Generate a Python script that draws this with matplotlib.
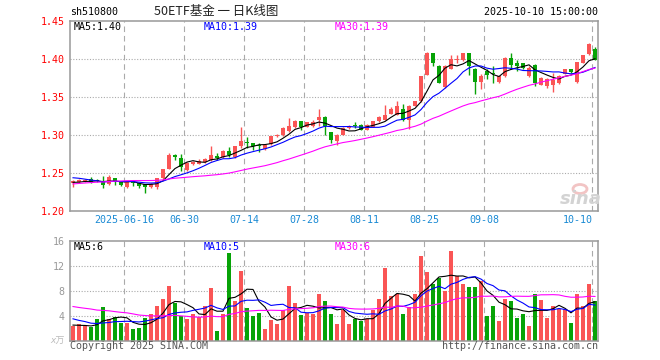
import numpy as np
import pandas as pd
import matplotlib
matplotlib.use('Agg')
from matplotlib import pyplot as plt
from matplotlib.patches import Ellipse

# sh510800 50ETF基金, daily candles 2025-06-03 .. 2025-10-10
opens = [1.2375, 1.2380, 1.2395, 1.2420, 1.2412, 1.2403, 1.2360, 1.2434, 1.2390, 1.2316,
         1.2403, 1.2368, 1.2355, 1.2316, 1.2325, 1.2434, 1.2560, 1.2741, 1.2702, 1.2543,
         1.2620, 1.2625, 1.2645, 1.2667, 1.2728, 1.2706, 1.2790, 1.2710, 1.2850, 1.2915,
         1.2895, 1.2865, 1.2820, 1.2882, 1.2982, 1.2996, 1.3048, 1.3101, 1.3180, 1.3105,
         1.3114, 1.3202, 1.3237, 1.3039, 1.2925, 1.3004, 1.3092, 1.3135, 1.3136, 1.3070,
         1.3105, 1.3180, 1.3202, 1.3281, 1.3268, 1.3342, 1.3193, 1.3386, 1.3443, 1.3794,
         1.4070, 1.3912, 1.3627, 1.3868, 1.3983, 1.3983, 1.4070, 1.3868, 1.3693, 1.3838,
         1.3810, 1.3693, 1.3772, 1.4013, 1.3940, 1.3947, 1.3772, 1.3925, 1.3662, 1.3640,
         1.3662, 1.3684, 1.3807, 1.3860, 1.3693, 1.3947, 1.4057, 1.4132]
highs = [1.2405, 1.2420, 1.2425, 1.2445, 1.2420, 1.2465, 1.2470, 1.2440, 1.2400, 1.2400,
         1.2410, 1.2375, 1.2360, 1.2370, 1.2440, 1.2560, 1.2760, 1.2750, 1.2754, 1.2650,
         1.2660, 1.2680, 1.2700, 1.2851, 1.2760, 1.2810, 1.2840, 1.2860, 1.3110, 1.2970,
         1.2900, 1.2890, 1.2870, 1.2990, 1.3010, 1.3100, 1.3224, 1.3202, 1.3185, 1.3175,
         1.3202, 1.3338, 1.3245, 1.3045, 1.3010, 1.3100, 1.3135, 1.3165, 1.3145, 1.3145,
         1.3190, 1.3250, 1.3400, 1.3369, 1.3443, 1.3408, 1.3390, 1.3450, 1.3780, 1.4085,
         1.4080, 1.3920, 1.3915, 1.4044, 1.4044, 1.4080, 1.4075, 1.3880, 1.3800, 1.3860,
         1.3900, 1.3780, 1.4030, 1.4070, 1.3990, 1.3950, 1.3905, 1.3930, 1.3760, 1.3745,
         1.3820, 1.3790, 1.3870, 1.3870, 1.3960, 1.4050, 1.4210, 1.4150]
lows = [1.2325, 1.2370, 1.2385, 1.2375, 1.2385, 1.2303, 1.2350, 1.2346, 1.2330, 1.2305,
        1.2330, 1.2310, 1.2246, 1.2300, 1.2290, 1.2425, 1.2550, 1.2675, 1.2535, 1.2535,
        1.2610, 1.2615, 1.2635, 1.2660, 1.2670, 1.2700, 1.2710, 1.2700, 1.2830, 1.2830,
        1.2807, 1.2780, 1.2810, 1.2875, 1.2970, 1.2990, 1.3040, 1.3095, 1.3070, 1.3100,
        1.3110, 1.3114, 1.3000, 1.2895, 1.2873, 1.2995, 1.3085, 1.3095, 1.3060, 1.3060,
        1.3100, 1.3170, 1.3195, 1.3275, 1.3260, 1.3180, 1.3075, 1.3380, 1.3440, 1.3790,
        1.3910, 1.3680, 1.3620, 1.3860, 1.3947, 1.3975, 1.3794, 1.3544, 1.3610, 1.3740,
        1.3680, 1.3680, 1.3765, 1.3860, 1.3840, 1.3870, 1.3760, 1.3640, 1.3655, 1.3620,
        1.3560, 1.3675, 1.3800, 1.3815, 1.3680, 1.3940, 1.4050, 1.3980]
closes = [1.2395, 1.2412, 1.2405, 1.2390, 1.2395, 1.2346, 1.2447, 1.2403, 1.2346, 1.2390,
          1.2368, 1.2333, 1.2316, 1.2360, 1.2434, 1.2557, 1.2741, 1.2711, 1.2579, 1.2640,
          1.2649, 1.2660, 1.2685, 1.2745, 1.2697, 1.2785, 1.2745, 1.2851, 1.2917, 1.2890,
          1.2855, 1.2850, 1.2864, 1.2982, 1.3004, 1.3092, 1.3114, 1.3180, 1.3101, 1.3167,
          1.3171, 1.3233, 1.3114, 1.2939, 1.3000, 1.3092, 1.3123, 1.3125, 1.3070, 1.3136,
          1.3180, 1.3237, 1.3268, 1.3342, 1.3377, 1.3202, 1.3386, 1.3443, 1.3772, 1.4079,
          1.3939, 1.3684, 1.3912, 1.4000, 1.4000, 1.4070, 1.3904, 1.3693, 1.3781, 1.3794,
          1.3800, 1.3772, 1.4013, 1.3925, 1.3904, 1.3882, 1.3882, 1.3684, 1.3750, 1.3737,
          1.3728, 1.3780, 1.3860, 1.3825, 1.3956, 1.4044, 1.4189, 1.3990]
volumes = [2.3, 2.6, 2.3, 2.2, 3.4, 5.4, 3.5, 3.8, 2.8, 2.8,
           1.8, 2.0, 3.6, 4.2, 5.6, 6.7, 8.8, 6.1, 3.9, 3.4,
           4.2, 3.8, 5.6, 8.5, 1.5, 4.2, 14.1, 6.4, 11.2, 5.3,
           4.0, 4.5, 1.9, 3.3, 2.7, 4.9, 8.8, 6.1, 4.1, 4.4,
           4.2, 7.4, 6.3, 4.2, 2.6, 4.9, 2.6, 3.5, 3.1, 3.5,
           4.9, 6.6, 11.7, 7.2, 7.4, 4.3, 5.4, 7.4, 13.5, 11.0,
           9.0, 10.1, 7.9, 14.4, 10.3, 9.1, 8.6, 8.6, 9.6, 3.9,
           5.6, 3.1, 6.6, 6.3, 3.7, 4.2, 2.4, 7.5, 6.5, 3.6,
           5.6, 5.1, 5.1, 2.9, 7.4, 5.5, 9.0, 6.3]  # x万

# days before the window, only needed so the moving averages start right
pre_closes = [1.221, 1.223, 1.222, 1.225, 1.226, 1.224, 1.227, 1.229, 1.228, 1.231,
              1.233, 1.232, 1.235, 1.237, 1.236, 1.239, 1.241, 1.240, 1.243, 1.244,
              1.248, 1.252, 1.251, 1.249, 1.250, 1.240, 1.236, 1.238, 1.2365]
pre_volumes = [7.2, 6.1, 5.8, 8.4, 6.9, 5.5, 7.7, 6.3, 5.2, 6.8,
               7.5, 5.9, 6.0, 5.4, 6.6, 7.1, 5.8, 6.2, 5.6, 7.0,
               5.1, 4.2, 4.8, 3.9, 4.5, 2.8, 2.4, 2.6, 2.4]

date_ticks = [9, 19, 29, 39, 49, 59, 69, 87]
date_labels = ['2025-06-16', '06-30', '07-14', '07-28', '08-11', '08-25', '09-08', '10-10']

price_ticks = [1.20, 1.25, 1.30, 1.35, 1.40, 1.45]
vol_ticks = [4, 8, 12, 16]

RED = '#fa5555'
GREEN = '#07a307'
GRID = '#aaaaaa'
MONO = ['DejaVu Sans Mono', 'Noto Sans CJK SC']
FS = 7.2

plt.rcParams['font.family'] = MONO

o = np.array(opens)
c = np.array(closes)
h = np.array(highs)
l = np.array(lows)
v = np.array(volumes)
n = len(c)
x = np.arange(n)
colors = np.where(c >= o, RED, GREEN)

all_c = pd.Series(pre_closes + closes)
all_v = pd.Series(pre_volumes + volumes)
ma = {k: all_c.rolling(k).mean().values[-n:] for k in (5, 10, 30)}
vma = {k: all_v.rolling(k).mean().values[-n:] for k in (5, 10, 30)}
ma_colors = {5: 'black', 10: '#0000ff', 30: '#ff00ff'}

W, H = 660.0, 360.0
fig = plt.figure(figsize=(6.6, 3.6), dpi=100)
ax = fig.add_axes([70 / W, 1 - 211.3 / H, 528 / W, 190.6 / H])
axv = fig.add_axes([70 / W, 1 - 340.7 / H, 528 / W, 100 / H])


def frame(a):
	for s in a.spines.values():
		s.set_color('#999999')
		s.set_linewidth(1.1)
	a.set_xlim(-0.5, n - 0.5)
	for d in date_ticks:
		a.axvline(d - 0.45, color=GRID, lw=0.8, linestyle=(0, (5, 3.5)), zorder=0)


# price panel
frame(ax)
ax.set_ylim(1.20, 1.45)
for yv in price_ticks[1:-1]:
	ax.axhline(yv, color=GRID, lw=0.8, linestyle=(0, (1, 1.5)), zorder=0)
ax.vlines(x, l, h, colors=colors, lw=1.0, zorder=2)
ax.bar(x, np.maximum(np.abs(c - o), 0.0005), bottom=np.minimum(o, c), width=0.8,
       color=colors, linewidth=0, zorder=3)
for k in (5, 10, 30):
	ax.plot(x, ma[k], color=ma_colors[k], lw=0.8, zorder=4)
ax.set_yticks(price_ticks)
ax.set_yticklabels(['%.2f' % t for t in price_ticks])
ax.tick_params(axis='y', length=0, pad=4, labelcolor='red', labelsize=FS)
ax.set_xticks([d - 0.45 for d in date_ticks])
ax.set_xticklabels(date_labels)
ax.tick_params(axis='x', length=0, pad=2.5, labelcolor='#1a8ad4', labelsize=FS)
ax.get_xticklabels()[-1].set_ha('right')

# volume panel
frame(axv)
axv.set_ylim(0, 16)
for yv in vol_ticks[:-1]:
	axv.axhline(yv, color=GRID, lw=0.8, linestyle=(0, (1, 1.5)), zorder=0)
axv.bar(x, v, width=0.8, color=colors, linewidth=0, zorder=2)
for k in (5, 10, 30):
	axv.plot(x, vma[k], color=ma_colors[k], lw=0.8, zorder=4)
axv.set_yticks(vol_ticks)
axv.set_yticklabels([str(t) for t in vol_ticks])
axv.tick_params(axis='y', length=0, pad=4, labelcolor='#999999', labelsize=FS)
axv.set_xticks([])


def px(xp, yp, s, **kw):
	kw.setdefault('fontsize', FS)
	kw.setdefault('va', 'center')
	fig.text(xp / W, 1 - yp / H, s, **kw)


# header
px(70, 12, 'sh510800')
px(216, 12, '50ETF基金 一 日K线图', ha='center', fontsize=9, family=['Noto Sans CJK SC'], color='#222222')
px(598, 12, '2025-10-10 15:00:00', ha='right')

# MA legends
px(74, 27, 'MA5:1.40', color='black')
px(204, 27, 'MA10:1.39', color='#0000ff')
px(335, 27, 'MA30:1.39', color='#ff00ff')
px(74, 247, 'MA5:6', color='black')
px(204, 247, 'MA10:5', color='#0000ff')
px(335, 247, 'MA30:6', color='#ff00ff')

# footer
px(65, 341, 'x万', ha='right', color='#bbbbbb', fontsize=6.5, style='italic')
px(70, 346, 'Copyright 2025 SINA.COM', color='#555555')
px(598, 346, 'http://finance.sina.com.cn', ha='right', color='#555555')

# sina watermark
fig.patches.append(Ellipse((580 / W, 1 - 189 / H), 14 / W, 9 / H, transform=fig.transFigure,
                           fill=False, edgecolor='#f2c4c4', lw=2))
px(581, 199, 'sina', ha='center', color='#d3d3d3', fontsize=13, fontweight='bold',
   style='italic', family=['DejaVu Sans'])

fig.savefig('out.png', dpi=100)
